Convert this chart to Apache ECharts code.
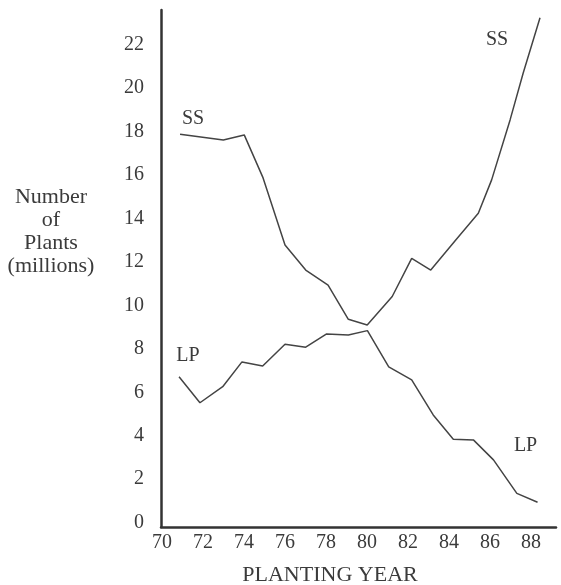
<!DOCTYPE html>
<html>
<head>
<meta charset="utf-8">
<script src="https://cdn.jsdelivr.net/npm/echarts@6/dist/echarts.min.js"></script>
<style>
html,body{margin:0;padding:0;background:#fff;}
#chart{width:561px;height:585px;}
</style>
</head>
<body>
<div id="chart"></div>
<script>
// Data (year, millions of plants)
var ssYears  = [70.88, 72.99, 74.01, 74.93, 76.00, 77.01, 78.10, 79.09, 80.01, 81.23, 82.18, 83.11, 84.34, 85.43, 86.08, 86.98, 87.62, 88.44];
var ssValues = [17.88, 17.62, 17.85, 15.87, 12.78, 11.63, 10.94,  9.36,  9.10, 10.41, 12.17, 11.63, 13.02, 14.24, 15.78, 18.54, 20.70, 23.24];
var lpYears  = [70.83, 71.85, 72.96, 73.90, 74.91, 76.00, 77.01, 78.03, 79.09, 80.02, 81.06, 82.18, 83.23, 84.21, 85.19, 86.17, 87.31, 88.32];
var lpValues = [ 6.72,  5.52,  6.26,  7.40,  7.21,  8.21,  8.08,  8.69,  8.64,  8.84,  7.17,  6.57,  4.96,  3.84,  3.81,  2.89,  1.35,  0.94];
var xTicks = [70, 72, 74, 76, 78, 80, 82, 84, 86, 88];
var yTicks = [0, 2, 4, 6, 8, 10, 12, 14, 16, 18, 20, 22];
var xTitle = 'PLANTING YEAR';
var yTitle = 'Number\nof\nPlants\n(millions)';

var FONT = 'Liberation Serif';
var TXT = '#3b3b3b';
var LINE = '#444';

function pairs(xs, ys) { return xs.map(function (x, i) { return [x, ys[i]]; }); }
function withLabels(data, marks) {
  return data.map(function (d, i) {
    if (marks[i]) {
      return { value: d, label: { show: true, formatter: marks[i].text, position: 'inside',
        offset: marks[i].offset, fontFamily: FONT, fontSize: 20, color: TXT } };
    }
    return d;
  });
}

var ssData = withLabels(pairs(ssYears, ssValues), {0: {text: 'SS', offset: [13, -16]}, 17: {text: 'SS', offset: [-43, 22]}});
var lpData = withLabels(pairs(lpYears, lpValues), {0: {text: 'LP', offset: [9, -21]}, 17: {text: 'LP', offset: [-12, -56]}});

var chart = echarts.init(document.getElementById('chart'), null, {renderer: 'canvas'});
chart.setOption({
  animation: false,
  backgroundColor: '#fff',
  title: [
    { text: xTitle, left: 330, top: 564, textAlign: 'center', padding: 0,
      textStyle: { fontFamily: FONT, fontSize: 22, fontWeight: 'normal', color: TXT } },
    { text: yTitle, left: 51, top: 186, textAlign: 'center', padding: 0,
      textStyle: { fontFamily: FONT, fontSize: 22, fontWeight: 'normal', color: TXT, lineHeight: 23 } }
  ],
  grid: { left: 161, right: 5, top: 10, bottom: 58, containLabel: false },
  xAxis: {
    type: 'value', min: 69.95, max: 89.22,
    axisLine: { show: true, onZero: false, lineStyle: { color: '#333', width: 2.5 } },
    axisTick: { show: false },
    splitLine: { show: false },
    axisLabel: { customValues: xTicks, fontFamily: FONT, fontSize: 20, color: TXT, margin: 6 }
  },
  yAxis: {
    type: 'value', min: -0.2, max: 23.6,
    axisLine: { show: true, onZero: false, lineStyle: { color: '#333', width: 2.5 } },
    axisTick: { show: false },
    splitLine: { show: false },
    axisLabel: { customValues: yTicks, fontFamily: FONT, fontSize: 20, color: TXT, margin: 17 }
  },
  series: [
    { name: 'SS', type: 'line', data: ssData, showSymbol: true, symbol: 'circle', symbolSize: 0,
      lineStyle: { color: LINE, width: 1.5 }, itemStyle: { color: LINE }, silent: true },
    { name: 'LP', type: 'line', data: lpData, showSymbol: true, symbol: 'circle', symbolSize: 0,
      lineStyle: { color: LINE, width: 1.5 }, itemStyle: { color: LINE }, silent: true }
  ]
});
</script>
</body>
</html>
